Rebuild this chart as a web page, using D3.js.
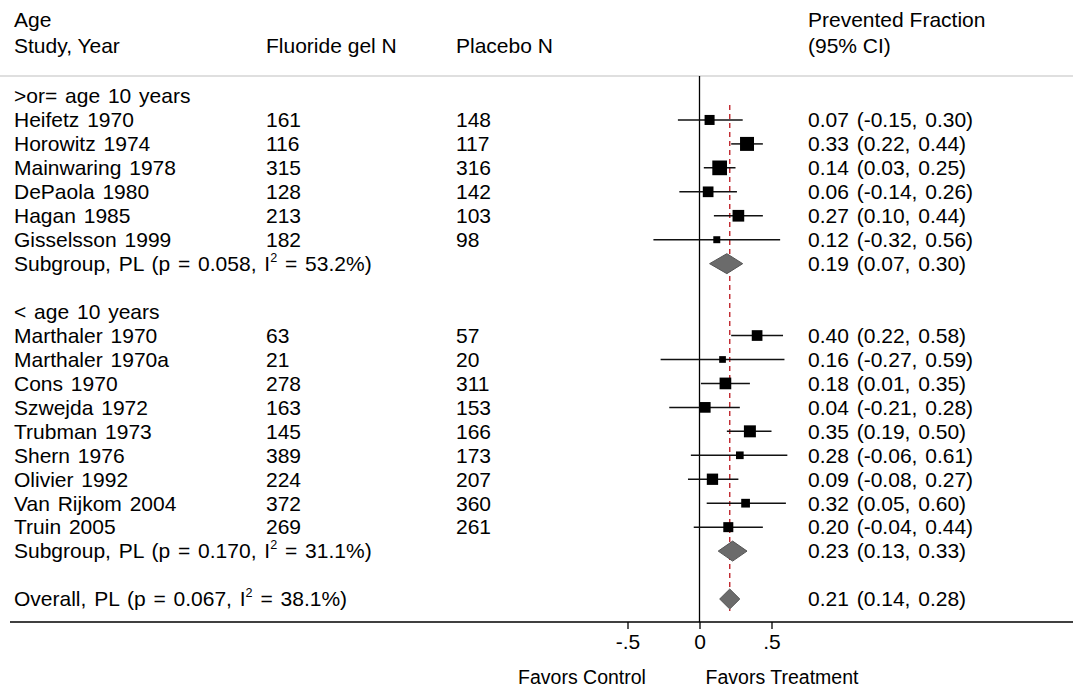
<!DOCTYPE html>
<html>
<head>
<meta charset="utf-8">
<script src="https://cdn.jsdelivr.net/npm/d3@7"></script>
<style>
  body { margin: 0; background: #fff; }
  text { font-family: "Liberation Sans", Arial, sans-serif; fill: #000; }
</style>
</head>
<body>
<div id="chart"></div>
<script>
// rows, top to bottom ("head" = group title, "study", "sub" = subgroup pooled, "gap" = empty)
var rowType = ["head", "study", "study", "study", "study", "study", "study", "sub", "gap",
               "head", "study", "study", "study", "study", "study", "study", "study", "study", "study", "sub", "gap",
               "overall"];
var rowLabel = [">or= age 10 years", "Heifetz 1970", "Horowitz 1974", "Mainwaring 1978", "DePaola 1980", "Hagan 1985", "Gisselsson 1999",
                "Subgroup, PL (p = 0.058, I|2| = 53.2%)", "",
                "< age 10 years", "Marthaler 1970", "Marthaler 1970a", "Cons 1970", "Szwejda 1972", "Trubman 1973", "Shern 1976",
                "Olivier 1992", "Van Rijkom 2004", "Truin 2005",
                "Subgroup, PL (p = 0.170, I|2| = 31.1%)", "",
                "Overall, PL (p = 0.067, I|2| = 38.1%)"];
var fluorideN = [null, 161, 116, 315, 128, 213, 182, null, null,
                 null, 63, 21, 278, 163, 145, 389, 224, 372, 269, null, null, null];
var placeboN  = [null, 148, 117, 316, 142, 103, 98, null, null,
                 null, 57, 20, 311, 153, 166, 173, 207, 360, 261, null, null, null];
var estimate  = [null, 0.07, 0.33, 0.14, 0.06, 0.27, 0.12, 0.19, null,
                 null, 0.40, 0.16, 0.18, 0.04, 0.35, 0.28, 0.09, 0.32, 0.20, 0.23, null, 0.21];
var lower     = [null, -0.15, 0.22, 0.03, -0.14, 0.10, -0.32, 0.07, null,
                 null, 0.22, -0.27, 0.01, -0.21, 0.19, -0.06, -0.08, 0.05, -0.04, 0.13, null, 0.14];
var upper     = [null, 0.30, 0.44, 0.25, 0.26, 0.44, 0.56, 0.30, null,
                 null, 0.58, 0.59, 0.35, 0.28, 0.50, 0.61, 0.27, 0.60, 0.44, 0.33, null, 0.28];
// study weights (%)
var weight    = [null, 5.8, 11.3, 12.5, 6.6, 7.9, 2.8, null, null,
                 null, 6.6, 2.6, 7.9, 6.6, 8.3, 3.4, 7.4, 4.4, 5.8, null, null, null];
var tickValues = [-0.5, 0, 0.5];
var tickLabels = ["-.5", "0", ".5"];
var overallEffect = 0.21;

var width = 1079, height = 692;
var fs = 21;

var svg = d3.select("#chart").append("svg")
    .attr("width", width)
    .attr("height", height);

var x = d3.scaleLinear().domain([0, 1]).range([699.5, 843.5]);
var y = d3.scaleLinear().domain([0, rowType.length - 1]).range([96, 599]);
var box = d3.scaleSqrt().domain([0, d3.max(weight)]).range([0, 14.7]);

var axisY = 622, topY = 76;

// header
function headText(tx, ty, s) {
    svg.append("text").attr("x", tx).attr("y", ty).attr("dy", "0.35em")
        .attr("font-size", fs).text(s);
}
headText(14, 20, "Age");
headText(14, 46, "Study, Year");
headText(266, 46, "Fluoride gel N");
headText(456, 46, "Placebo N");
headText(808, 20, "Prevented Fraction");
headText(808, 46, "(95% CI)");

svg.append("line")
    .attr("x1", 0).attr("x2", 1073)
    .attr("y1", topY).attr("y2", topY)
    .style("stroke", "#d4d4d4").style("stroke-width", 1.5);

// label column, with superscript for I2
rowLabel.forEach(function(s, i) {
    if (!s) return;
    var t = svg.append("text").attr("x", 14).attr("y", y(i)).attr("dy", "0.35em")
        .attr("font-size", fs).style("word-spacing", "2px");
    var parts = s.split("|");
    t.append("tspan").text(parts[0]);
    if (parts.length > 1) {
        t.append("tspan").attr("font-size", fs * 0.6).attr("dy", "-0.75em").text(parts[1]);
        t.append("tspan").attr("dy", "0.45em").text(parts[2]);
    }
});

// N columns
var nRows = d3.range(rowType.length).filter(function(i) { return fluorideN[i] != null; });
svg.selectAll(".fn").data(nRows).enter().append("text")
    .attr("x", 266).attr("y", function(i) { return y(i); }).attr("dy", "0.35em")
    .attr("font-size", fs).text(function(i) { return fluorideN[i]; });
svg.selectAll(".pn").data(nRows).enter().append("text")
    .attr("x", 456).attr("y", function(i) { return y(i); }).attr("dy", "0.35em")
    .attr("font-size", fs).text(function(i) { return placeboN[i]; });

// estimate column
var est = d3.range(rowType.length).filter(function(i) { return estimate[i] != null; });
function f2(v) { return v.toFixed(2); }
svg.selectAll(".ci").data(est).enter().append("text")
    .attr("x", 808).attr("y", function(i) { return y(i); }).attr("dy", "0.35em")
    .attr("font-size", fs).style("word-spacing", "2px")
    .text(function(i) { return f2(estimate[i]) + " (" + f2(lower[i]) + ", " + f2(upper[i]) + ")"; });

// zero line
svg.append("line")
    .attr("x1", x(0)).attr("x2", x(0))
    .attr("y1", topY).attr("y2", axisY)
    .style("stroke", "#000").style("stroke-width", 1.3);

// overall effect line
svg.append("line")
    .attr("x1", x(overallEffect)).attr("x2", x(overallEffect))
    .attr("y1", 105).attr("y2", 611)
    .style("stroke", "#c0262d").style("stroke-width", 1.4)
    .style("stroke-dasharray", "5,4");

// study CIs and boxes
var studies = est.filter(function(i) { return rowType[i] === "study"; });
svg.selectAll(".cil").data(studies).enter().append("line")
    .attr("x1", function(i) { return x(lower[i]); })
    .attr("x2", function(i) { return x(upper[i]); })
    .attr("y1", function(i) { return y(i); })
    .attr("y2", function(i) { return y(i); })
    .style("stroke", "#111").style("stroke-width", 1.5);

svg.selectAll(".box").data(studies).enter().append("rect")
    .attr("x", function(i) { return x(estimate[i]) - box(weight[i]) / 2; })
    .attr("y", function(i) { return y(i) - box(weight[i]) / 2; })
    .attr("width", function(i) { return box(weight[i]); })
    .attr("height", function(i) { return box(weight[i]); })
    .style("fill", "#000");

// pooled diamonds
var pooled = est.filter(function(i) { return rowType[i] !== "study"; });
svg.selectAll(".dia").data(pooled).enter().append("path")
    .attr("d", function(i) {
        var cy = y(i), h = 10;
        return "M" + x(lower[i]) + "," + cy +
               "L" + x(estimate[i]) + "," + (cy - h) +
               "L" + x(upper[i]) + "," + cy +
               "L" + x(estimate[i]) + "," + (cy + h) + "Z";
    })
    .style("fill", "#6b6b6b").style("stroke", "#555").style("stroke-width", 1);

// axis
svg.append("line")
    .attr("x1", 10).attr("x2", 1073)
    .attr("y1", axisY).attr("y2", axisY)
    .style("stroke", "#000").style("stroke-width", 1.4);

var axis = d3.axisBottom(x).tickValues(tickValues)
    .tickFormat(function(d, i) { return tickLabels[i]; })
    .tickSize(7).tickPadding(5);
var gAxis = svg.append("g").attr("transform", "translate(0," + axisY + ")").call(axis);
gAxis.select(".domain").remove();
gAxis.selectAll("line").style("stroke", "#000").style("stroke-width", 1.3);
gAxis.selectAll("text").attr("font-size", fs).style("font-family", "Liberation Sans, Arial, sans-serif")
    .attr("fill", "#000");

svg.append("text").attr("x", 582).attr("y", 677).attr("dy", "0.35em")
    .attr("text-anchor", "middle").attr("font-size", 19.5).text("Favors Control");
svg.append("text").attr("x", 782).attr("y", 677).attr("dy", "0.35em")
    .attr("text-anchor", "middle").attr("font-size", 19.5).text("Favors Treatment");
</script>
</body>
</html>
